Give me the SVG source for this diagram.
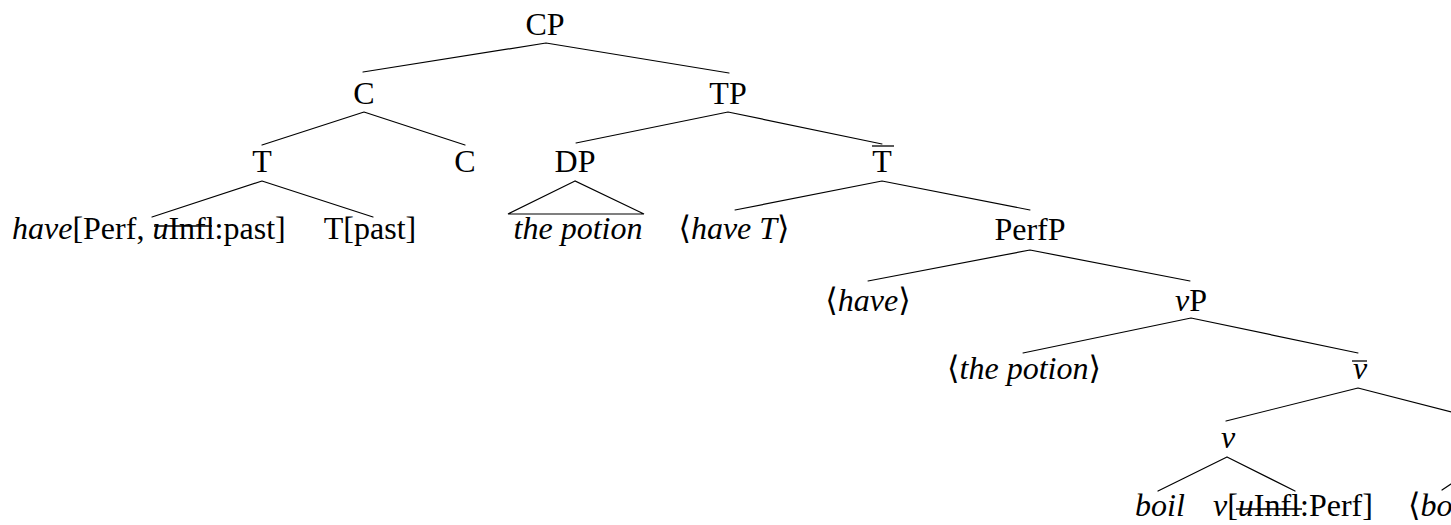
<svg xmlns="http://www.w3.org/2000/svg" width="1451" height="525" viewBox="0 0 1451 525">
<style>
.lbl{font-family:"Liberation Serif","DejaVu Serif",serif;font-size:32px;fill:#000}
.m{text-anchor:middle}
.it{font-style:italic}
.up{font-style:normal}
.edge{stroke:#000;stroke-width:1.2;fill:none;stroke-linecap:round}
.bar{stroke:#000;stroke-width:1.3;fill:none}
</style>
<rect width="1451" height="525" fill="#fff"/>
<g id="connectors">
  <path class="edge" d="M546 43 L363 72 M546 43 L729 73"/>
  <path class="edge" d="M364 112 L262 145 M364 112 L465 145"/>
  <path class="edge" d="M728 112 L576 143 M728 112 L882 144"/>
  <path class="edge" d="M262 181 L152 217 M262 181 L373 217"/>
  <path class="edge" d="M575 181 L508 214 L644 214 Z"/>
  <path class="edge" d="M882 181 L735 210 M882 181 L1030 210"/>
  <path class="edge" d="M1030 250 L868 281 M1030 250 L1190 281"/>
  <path class="edge" d="M1191 318 L1023 353 M1191 318 L1358 353"/>
  <path class="edge" d="M1358 388 L1226 421 M1358 388 L1490 422"/>
  <path class="edge" d="M1227 457 L1158 491 M1227 457 L1295 491"/>
  <path class="edge" d="M1490 458 L1442 490"/>
</g>
<g id="n-CP"><text class="lbl m" x="545" y="35">CP</text></g>
<g id="n-C1"><text class="lbl m" x="364" y="104">C</text></g>
<g id="n-TP"><text class="lbl m" x="728" y="104">TP</text></g>
<g id="n-T1"><text class="lbl m" x="262" y="172">T</text></g>
<g id="n-C2"><text class="lbl m" x="465" y="172">C</text></g>
<g id="n-DP"><text class="lbl m" x="575" y="172">DP</text></g>
<g id="n-Tbar"><text class="lbl m" x="882" y="172">T</text><line class="bar" x1="872" y1="146" x2="894" y2="146"/></g>
<g id="n-have-leaf">
  <text class="lbl" x="12" y="239"><tspan class="it">have</tspan>[Perf, <tspan class="it">u</tspan>Infl:past]</text>
  <line class="bar" x1="154" y1="226" x2="212" y2="226"/>
</g>
<g id="n-Tpast"><text class="lbl m" x="370" y="239">T[past]</text></g>
<g id="n-thepotion"><text class="lbl m it" x="578" y="239">the potion</text></g>
<g id="n-haveT"><text class="lbl m" x="734" y="239"><tspan class="up">⟨</tspan><tspan class="it">have T</tspan><tspan class="up">⟩</tspan></text></g>
<g id="n-PerfP"><text class="lbl m" x="1030" y="240">PerfP</text></g>
<g id="n-have2"><text class="lbl m" x="868" y="311"><tspan class="up">⟨</tspan><tspan class="it">have</tspan><tspan class="up">⟩</tspan></text></g>
<g id="n-vP"><text class="lbl m" x="1191" y="311"><tspan class="it">v</tspan>P</text></g>
<g id="n-thepotion2"><text class="lbl m" x="1024" y="379"><tspan class="up">⟨</tspan><tspan class="it">the potion</tspan><tspan class="up">⟩</tspan></text></g>
<g id="n-vbar"><text class="lbl m it" x="1360" y="379">v</text><line class="bar" x1="1352" y1="361" x2="1367" y2="361"/></g>
<g id="n-v"><text class="lbl m it" x="1228" y="448">v</text></g>
<g id="n-boil"><text class="lbl m it" x="1160" y="516">boil</text></g>
<g id="n-vhead">
  <text class="lbl" x="1213" y="516"><tspan class="it">v</tspan>[<tspan class="it">u</tspan>Infl:Perf]</text>
  <line class="bar" x1="1236" y1="509" x2="1302" y2="509"/>
</g>
<g id="n-boil2"><text class="lbl" x="1408" y="516"><tspan class="up">⟨</tspan><tspan class="it">boil</tspan><tspan class="up">⟩</tspan></text></g>
</svg>
